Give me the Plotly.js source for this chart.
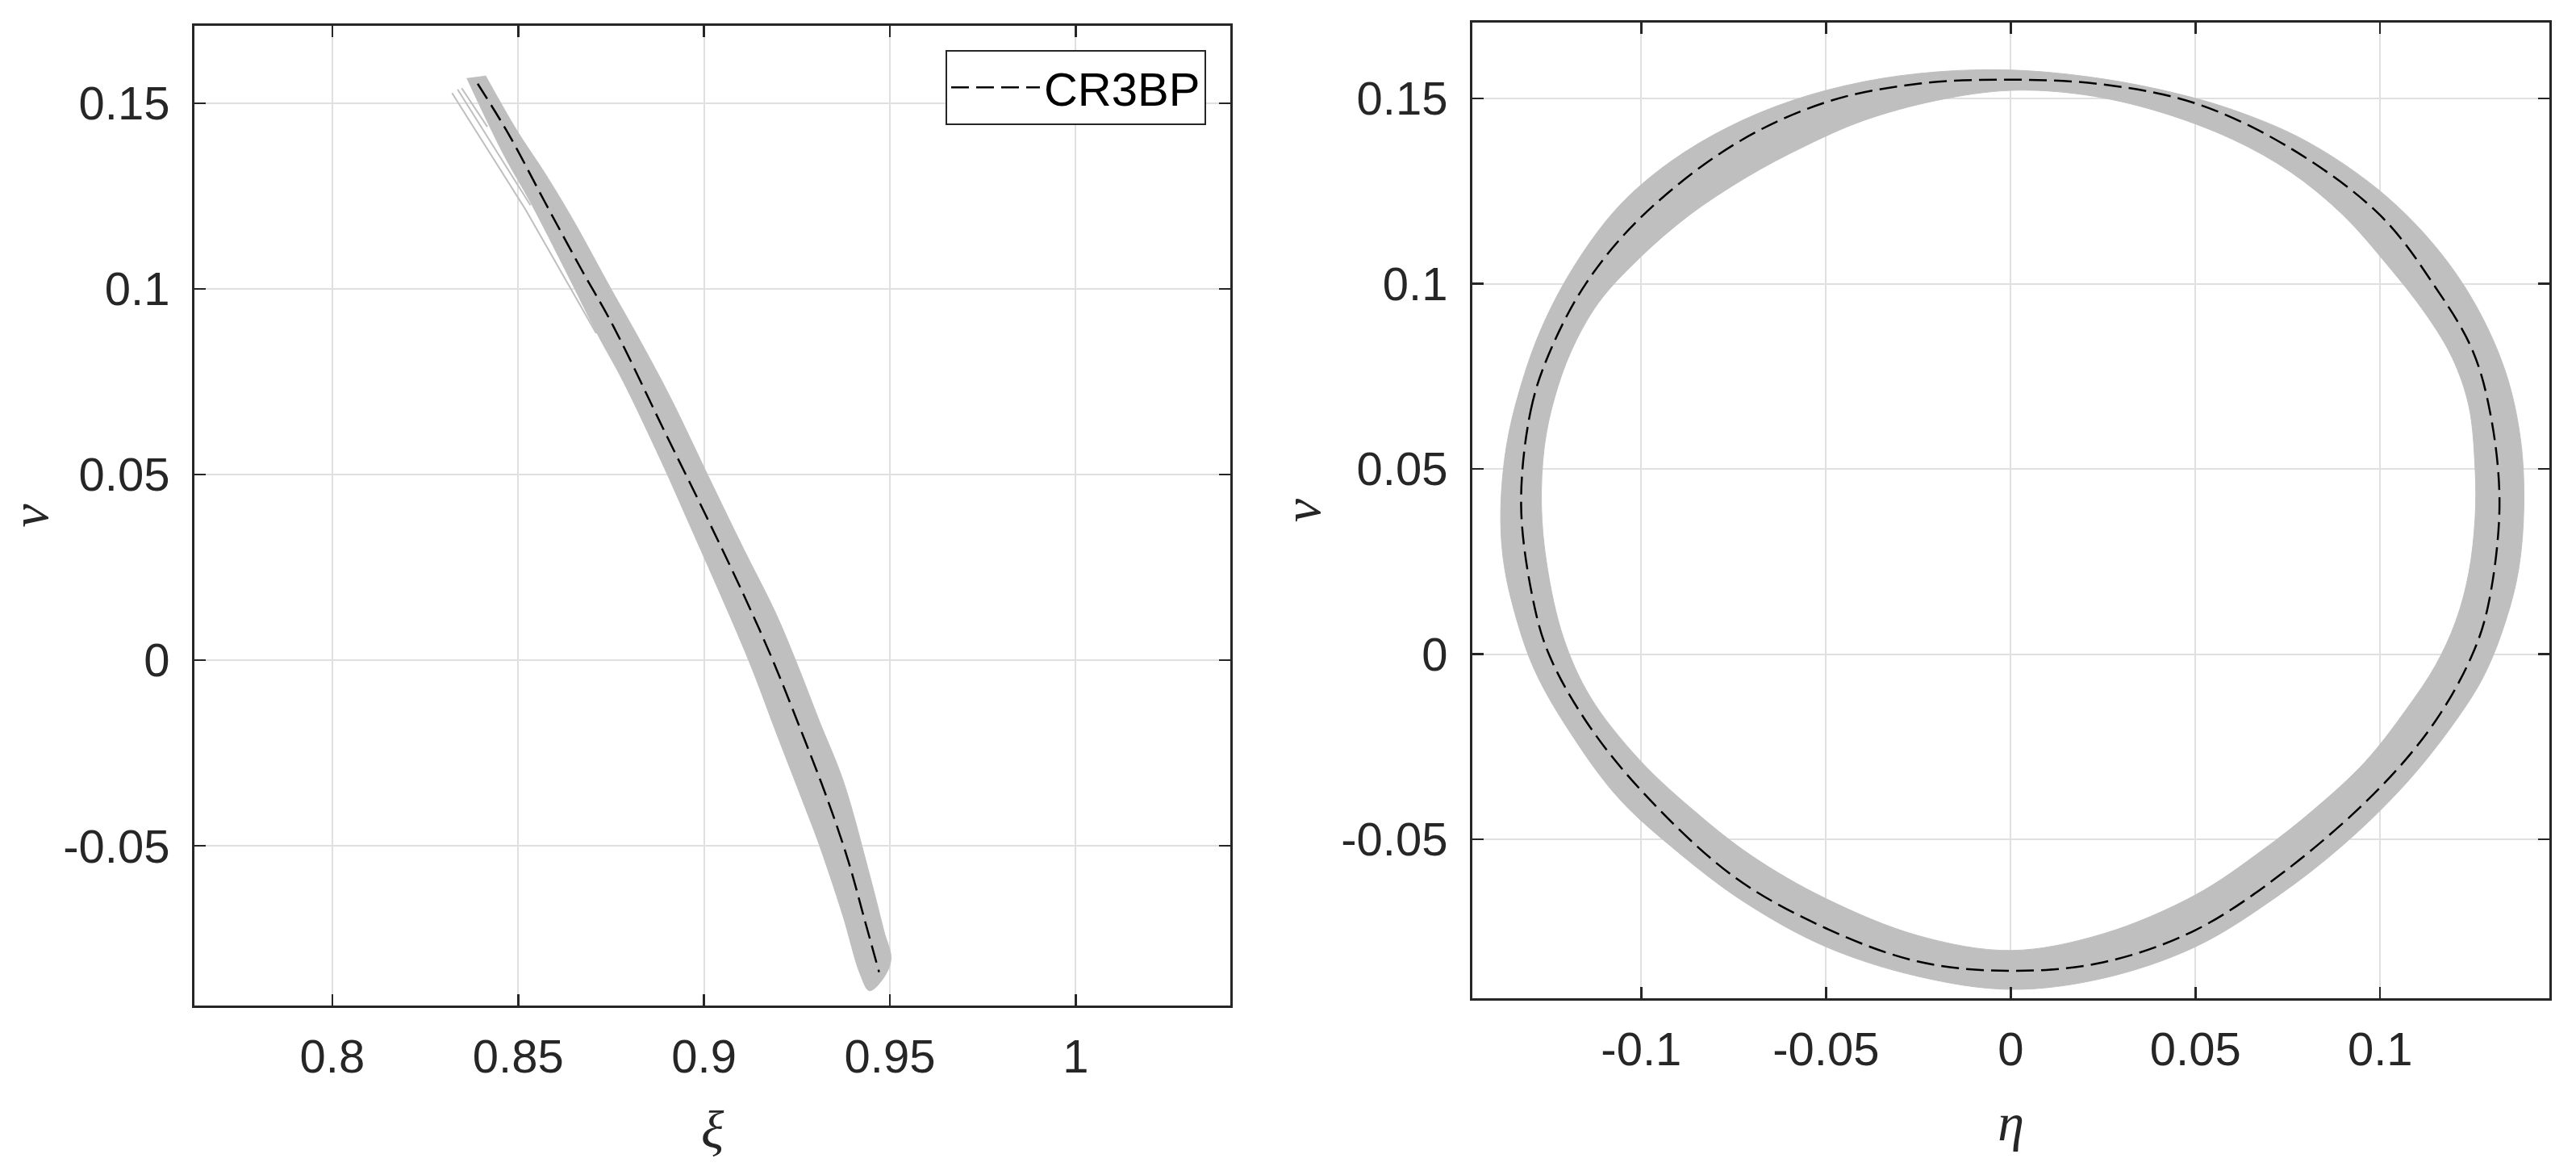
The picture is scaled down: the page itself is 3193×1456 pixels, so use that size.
<!DOCTYPE html>
<html>
<head>
<meta charset="utf-8">
<script src="https://cdn.plot.ly/plotly-3.0.1.min.js"></script>
<style>html,body{margin:0;padding:0;background:#fff;}#plot{width:3193px;height:1456px;}</style>
</head>
<body>
<div id="plot"></div>
<script>
// ---------- Left panel (xi, nu) ----------
const cr3bpXiL = [0.8391, 0.8475, 0.8572, 0.8670, 0.8757, 0.8895, 0.9007, 0.9105, 0.9185, 0.9264, 0.9330, 0.9388, 0.9431, 0.9471];
const cr3bpNuL = [0.1553, 0.1416, 0.1234, 0.1053, 0.0898, 0.0614, 0.0386, 0.0180, 0.0000, -0.0197, -0.0369, -0.0540, -0.0695, -0.0840];

// outline of the band of perturbed trajectories (left edge top->bottom, right edge bottom->top)
const bandXiL = [0.8362, 0.8460, 0.8533, 0.8630, 0.8712, 0.8782, 0.8885, 0.8952, 0.9120, 0.9195, 0.9268, 0.9310, 0.9373, 0.9420, 0.9445,
                 0.9480, 0.9503, 0.9484, 0.9440, 0.9375, 0.9310, 0.9250, 0.9192, 0.9105, 0.9011, 0.8909, 0.8822, 0.8750, 0.8645, 0.8572, 0.8496, 0.8412];
const bandNuL = [0.1568, 0.1364, 0.1234, 0.1045, 0.0881, 0.0752, 0.0536, 0.0386, 0.0000, -0.0197, -0.0386, -0.0497, -0.0686, -0.0845, -0.0890,
                 -0.0860, -0.0805, -0.0729, -0.0557, -0.0326, -0.0163, -0.0009, 0.0129, 0.0303, 0.0497, 0.0709, 0.0872, 0.1000, 0.1191, 0.1312, 0.1428, 0.1575];

// a few diverging single trajectories near the top
const strayXi1 = [0.8322, 0.8518, 0.8710];
const strayNu1 = [0.1528, 0.1217, 0.0881];
const strayXi2 = [0.8337, 0.8533];
const strayNu2 = [0.1538, 0.1226];
const strayXi3 = [0.8348, 0.8417];
const strayNu3 = [0.1541, 0.1437];

// ---------- Right panel (eta, nu) ----------
const cr3bpEtaR = [-0.1325, -0.1299, -0.1250, -0.1150, -0.1000, -0.0750, -0.0500, -0.0250, 0.0000, 0.0250, 0.0500, 0.0750, 0.1000, 0.1150, 0.1250, 0.1300,
                   0.1323, 0.1292, 0.1250, 0.1150, 0.1000, 0.0750, 0.0500, 0.0250, 0.0000, -0.0250, -0.0500, -0.0750, -0.1000, -0.1150, -0.1250, -0.1292, -0.1325];
const cr3bpNuR  = [0.0400, 0.0658, 0.0810, 0.1000, 0.1180, 0.1375, 0.1490, 0.1540, 0.1551, 0.1538, 0.1487, 0.1370, 0.1185, 0.0990, 0.0820, 0.0640,
                   0.0400, 0.0130, 0.0000, -0.0180, -0.0360, -0.0580, -0.0745, -0.0832, -0.0855, -0.0830, -0.0740, -0.0600, -0.0368, -0.0180, 0.0000, 0.0143, 0.0400];

// outer boundary of the band of trajectories
const outerEta = [-0.1380, -0.1365, -0.1330, -0.1270, -0.1180, -0.1060, -0.0920, -0.0760, -0.0590, -0.0400, -0.0200, 0.0000, 0.0200, 0.0400,
                  0.0600, 0.0800, 0.1000, 0.1150, 0.1260, 0.1340, 0.1380, 0.1389, 0.1375, 0.1340, 0.1280, 0.1190, 0.1060, 0.0900, 0.0720,
                  0.0500, 0.0250, 0.0000, -0.0250, -0.0500, -0.0720, -0.0900, -0.1060, -0.1190, -0.1290, -0.1350, -0.1375, -0.1380];
const outerNu  = [0.0400, 0.0560, 0.0710, 0.0880, 0.1050, 0.1210, 0.1330, 0.1425, 0.1495, 0.1545, 0.1572, 0.1577, 0.1560, 0.1525,
                  0.1470, 0.1385, 0.1250, 0.1100, 0.0940, 0.0760, 0.0580, 0.0400, 0.0230, 0.0090, -0.0060, -0.0200, -0.0360, -0.0515, -0.0655,
                  -0.0790, -0.0875, -0.0905, -0.0870, -0.0790, -0.0670, -0.0535, -0.0390, -0.0215, -0.0040, 0.0140, 0.0270, 0.0400];

// inner boundary of the band of trajectories
const innerEta = [-0.1270, -0.1262, -0.1235, -0.1189, -0.1116, -0.1006, -0.0870, -0.0714, -0.0560, -0.0400, -0.0200, 0.0000, 0.0200, 0.0400,
                  0.0600, 0.0760, 0.0900, 0.1020, 0.1122, 0.1195, 0.1240, 0.1257, 0.1257, 0.1240, 0.1205, 0.1150, 0.1070, 0.0960, 0.0820,
                  0.0680, 0.0500, 0.0250, 0.0000, -0.0250, -0.0500, -0.0700, -0.0859, -0.1006, -0.1138, -0.1211, -0.1255, -0.1270];
const innerNu  = [0.0400, 0.0561, 0.0690, 0.0819, 0.0948, 0.1068, 0.1185, 0.1288, 0.1370, 0.1440, 0.1495, 0.1522, 0.1510, 0.1465,
                  0.1390, 0.1300, 0.1185, 0.1050, 0.0920, 0.0800, 0.0670, 0.0500, 0.0368, 0.0220, 0.0090, -0.0030, -0.0150, -0.0290, -0.0420,
                  -0.0530, -0.0650, -0.0755, -0.0800, -0.0760, -0.0660, -0.0545, -0.0421, -0.0284, -0.0115, 0.0046, 0.0239, 0.0400];

// ---------- ticks ----------
const xiTicks = [0.8, 0.85, 0.9, 0.95, 1];
const xiTickText = ['0.8', '0.85', '0.9', '0.95', '1'];
const etaTicks = [-0.1, -0.05, 0, 0.05, 0.1];
const etaTickText = ['-0.1', '-0.05', '0', '0.05', '0.1'];
const nuTicks = [-0.05, 0, 0.05, 0.1, 0.15];
const nuTickText = ['-0.05', '0', '0.05', '0.1', '0.15'];

const GRAY = '#bfbfbf';
const AXC = '#262626';
const tickFont = {family: 'Liberation Sans, Arial, sans-serif', size: 58, color: AXC};
const titleFont = {family: 'Liberation Serif, Times New Roman, serif', size: 66, color: AXC};

const traces = [
  {x: bandXiL, y: bandNuL, xaxis: 'x', yaxis: 'y', mode: 'lines', fill: 'toself', fillcolor: GRAY,
   line: {color: GRAY, width: 1, shape: 'spline', smoothing: 1}, showlegend: false, hoverinfo: 'skip'},
  {x: strayXi1, y: strayNu1, xaxis: 'x', yaxis: 'y', mode: 'lines', line: {color: GRAY, width: 2}, showlegend: false, hoverinfo: 'skip'},
  {x: strayXi2, y: strayNu2, xaxis: 'x', yaxis: 'y', mode: 'lines', line: {color: GRAY, width: 2}, showlegend: false, hoverinfo: 'skip'},
  {x: strayXi3, y: strayNu3, xaxis: 'x', yaxis: 'y', mode: 'lines', line: {color: GRAY, width: 2}, showlegend: false, hoverinfo: 'skip'},
  {x: cr3bpXiL, y: cr3bpNuL, xaxis: 'x', yaxis: 'y', mode: 'lines', name: 'CR3BP',
   line: {color: '#000000', width: 2.5, dash: '22px,9px', shape: 'spline'}, showlegend: true},

  {x: innerEta, y: innerNu, xaxis: 'x2', yaxis: 'y2', mode: 'lines', line: {color: GRAY, width: 1, shape: 'spline', smoothing: 1},
   showlegend: false, hoverinfo: 'skip'},
  {x: outerEta, y: outerNu, xaxis: 'x2', yaxis: 'y2', mode: 'lines', fill: 'tonext', fillcolor: GRAY,
   line: {color: GRAY, width: 1, shape: 'spline', smoothing: 1}, showlegend: false, hoverinfo: 'skip'},
  {x: cr3bpEtaR, y: cr3bpNuR, xaxis: 'x2', yaxis: 'y2', mode: 'lines', name: 'CR3BP',
   line: {color: '#000000', width: 2.5, dash: '22px,9px', shape: 'spline', smoothing: 1}, showlegend: false}
];

function axisBase(extra) {
  return Object.assign({
    showline: true, linecolor: AXC, linewidth: 3, mirror: 'ticks',
    ticks: 'inside', ticklen: 14, tickwidth: 2.5, tickcolor: AXC,
    showgrid: true, gridcolor: '#e0e0e0', gridwidth: 2,
    zeroline: false, tickfont: tickFont, automargin: false, fixedrange: true
  }, extra);
}

const nuTitle = '<i>ν</i>\u00a0\u00a0';

const layout = {
  width: 3193, height: 1456,
  margin: {l: 0, r: 0, t: 0, b: 0, pad: 0},
  paper_bgcolor: '#ffffff', plot_bgcolor: '#ffffff',
  showlegend: true,
  legend: {x: 0.4682, y: 0.9574, xanchor: 'right', yanchor: 'top', bgcolor: '#ffffff',
           bordercolor: AXC, borderwidth: 2, font: {family: 'Liberation Sans, Arial, sans-serif', size: 58, color: '#000000'},
           itemwidth: 110},
  xaxis: axisBase({domain: [0.07548, 0.47761], anchor: 'y', range: [0.7629, 1.0416],
                   tickmode: 'array', tickvals: xiTicks, ticktext: xiTickText, ticklabelstandoff: 10,
                   title: {text: '<i>ξ</i>', font: titleFont, standoff: 37}}),
  yaxis: axisBase({domain: [0.14423, 0.97802], anchor: 'x', range: [-0.0930, 0.1709],
                   tickmode: 'array', tickvals: nuTicks, ticktext: nuTickText, ticklabelstandoff: 16,
                   title: {text: nuTitle, font: titleFont, standoff: 5}}),
  xaxis2: axisBase({domain: [0.57157, 0.98966], anchor: 'y2', range: [-0.1457, 0.1458],
                    tickmode: 'array', tickvals: etaTicks, ticktext: etaTickText, ticklabelstandoff: 10,
                    title: {text: '<i>η</i>', font: titleFont, standoff: 37}}),
  yaxis2: axisBase({domain: [0.15041, 0.98077], anchor: 'x2', range: [-0.0929, 0.1705],
                    tickmode: 'array', tickvals: nuTicks, ticktext: nuTickText, ticklabelstandoff: 16,
                    title: {text: nuTitle, font: titleFont, standoff: 5}})
};

Plotly.newPlot('plot', traces, layout, {staticPlot: true, displayModeBar: false});
</script>
</body>
</html>
